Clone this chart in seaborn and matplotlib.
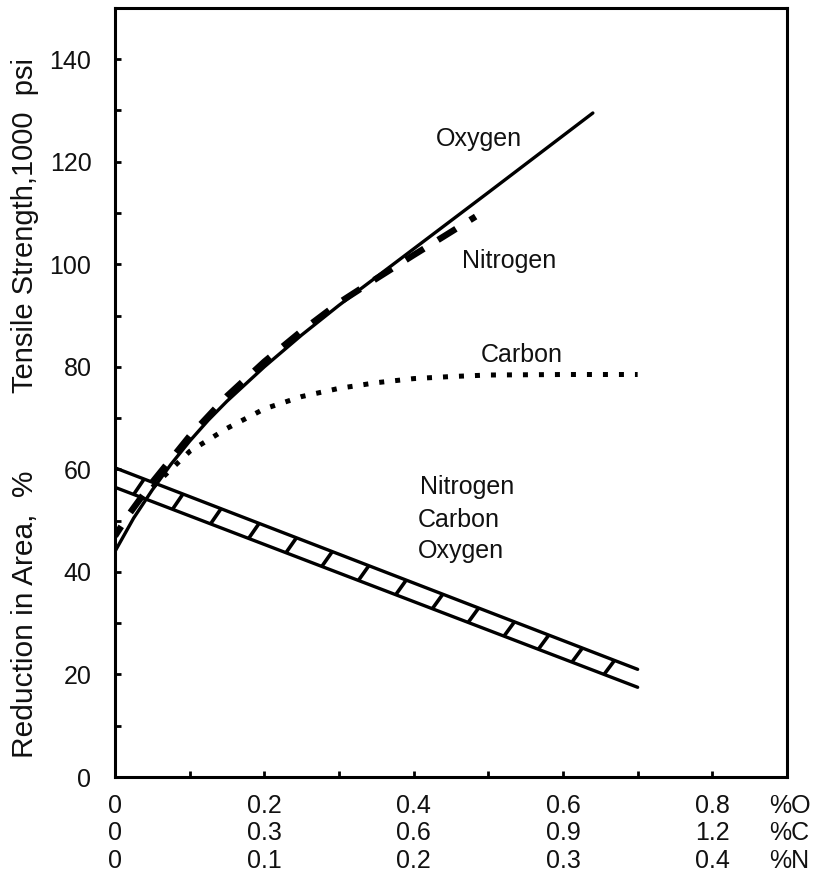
"""Tensile strength and reduction in area vs. interstitial content (O, C, N)."""

import matplotlib
matplotlib.use("Agg")
import matplotlib.pyplot as plt
import numpy as np
import pandas as pd
import seaborn as sns

# x positions of every curve are kept in the element's own units;
# the plot axis is %O, so %C = 1.5 * %O and %N = 0.5 * %O
C_PER_O = 1.5
N_PER_O = 0.5

OXYGEN_PCT = [0.0, 0.025, 0.05, 0.075, 0.10, 0.125, 0.15, 0.20, 0.25, 0.30, 0.40, 0.50, 0.64]
OXYGEN_TS = [44.0, 50.5, 56.0, 61.0, 65.5, 69.6, 73.3, 80.0, 86.2, 92.0, 103.0, 114.0, 129.5]

NITROGEN_PCT = [0.0, 0.01, 0.025, 0.0375, 0.05, 0.075, 0.10, 0.125, 0.15, 0.175, 0.20, 0.22, 0.2415]
NITROGEN_TS = [47.0, 51.5, 57.5, 62.0, 66.5, 74.3, 81.0, 87.0, 92.5, 97.2, 101.8, 105.4, 109.3]

CARBON_PCT = [0.075, 0.15, 0.225, 0.30, 0.375, 0.45, 0.525, 0.60, 0.675, 0.75, 0.90, 1.05]
CARBON_TS = [56.5, 63.5, 68.0, 71.8, 74.2, 75.8, 76.9, 77.7, 78.1, 78.4, 78.5, 78.5]

# reduction in area scatter band (same for N, C, O), in %O
BAND_O = [0.0, 0.70]
BAND_UPPER = [60.3, 21.0]
BAND_LOWER = [56.5, 17.5]
RUNG_O = [0.025, 0.077, 0.128, 0.179, 0.229, 0.277, 0.326, 0.376, 0.425, 0.473, 0.521, 0.567, 0.612, 0.655]

O_TICKS = ["0", "0.2", "0.4", "0.6", "0.8"]
C_TICKS = ["0", "0.3", "0.6", "0.9", "1.2"]
N_TICKS = ["0", "0.1", "0.2", "0.3", "0.4"]

TEXT_COLOR = "#111111"

sns.set_theme(style="ticks")
plt.rcParams["font.family"] = ["Liberation Sans", "DejaVu Sans"]

fig = plt.figure(figsize=(8.22, 8.76), dpi=100)
ax = fig.add_axes([0.1399, 0.113, 0.8175, 0.878])

oxy = pd.DataFrame({"x": OXYGEN_PCT, "y": OXYGEN_TS})
nit = pd.DataFrame({"x": np.array(NITROGEN_PCT) / N_PER_O, "y": NITROGEN_TS})
car = pd.DataFrame({"x": np.array(CARBON_PCT) / C_PER_O, "y": CARBON_TS})

sns.lineplot(data=car, x="x", y="y", ax=ax, color="black", lw=3.6,
             linestyle=(0, (1, 2.2)), estimator=None, sort=False)
sns.lineplot(data=oxy, x="x", y="y", ax=ax, color="black", lw=2.4,
             estimator=None, sort=False)
sns.lineplot(data=nit, x="x", y="y", ax=ax, color="black", lw=4.6,
             linestyle=(1.5, (3.3, 2.6)), estimator=None, sort=False)

# ladder band
band = pd.DataFrame({"x": BAND_O * 2, "y": BAND_UPPER + BAND_LOWER,
                     "edge": ["upper"] * 2 + ["lower"] * 2})
sns.lineplot(data=band, x="x", y="y", units="edge", ax=ax, color="black",
             lw=2.4, estimator=None, sort=False)
rung_x0 = np.array(RUNG_O)
rung_x1 = rung_x0 + 0.014
for x0, x1 in zip(rung_x0, rung_x1):
    ax.plot([x0, x1],
            [np.interp(x0, BAND_O, BAND_LOWER), np.interp(x1, BAND_O, BAND_UPPER)],
            color="black", lw=2.6, solid_capstyle="butt")

ax.set_xlim(0, 0.9)
ax.set_ylim(0, 150)
ax.set_xlabel("")
ax.set_ylabel("")

ax.set_xticks([0, 0.2, 0.4, 0.6, 0.8],
              labels=[f"{o}\n{c}\n{n}" for o, c, n in zip(O_TICKS, C_TICKS, N_TICKS)])
ax.set_xticks([0.1, 0.3, 0.5, 0.7], minor=True)
ax.set_yticks(range(0, 141, 20))
ax.set_yticks(range(10, 141, 20), minor=True)
ax.tick_params(which="both", direction="in", length=4.5, width=2, color="black",
               labelsize=18, labelcolor=TEXT_COLOR)
ax.tick_params(axis="x", which="both", pad=12)
ax.tick_params(axis="y", which="both", pad=17)
for lab in ax.get_xticklabels():
    lab.set_linespacing(1.2)

ax.annotate("%O\n%C\n%N", xy=(0.876, 0), xycoords=ax.get_xaxis_transform(),
            xytext=(0, -12), textcoords="offset points",
            ha="left", va="top", fontsize=18, linespacing=1.2, color=TEXT_COLOR)

for side in ["left", "right", "top", "bottom"]:
    ax.spines[side].set_linewidth(2.2)
    ax.spines[side].set_color("black")

labels = [
    ("Oxygen", 0.487, 124.5),
    ("Nitrogen", 0.528, 100.6),
    ("Carbon", 0.545, 82.3),
    ("Nitrogen", 0.472, 56.5),
    ("Carbon", 0.461, 50.1),
    ("Oxygen", 0.463, 44.0),
]
for text, x, y in labels:
    ax.text(x, y, text, ha="center", va="center", fontsize=18, color=TEXT_COLOR)

fig.text(0.03, 0.743, "Tensile Strength,1000  psi", rotation=90,
         ha="center", va="center", fontsize=21, color=TEXT_COLOR)
fig.text(0.03, 0.299, "Reduction in Area,  %", rotation=90,
         ha="center", va="center", fontsize=21.5, color=TEXT_COLOR)

fig.savefig("out.png", dpi=100, facecolor="white")
